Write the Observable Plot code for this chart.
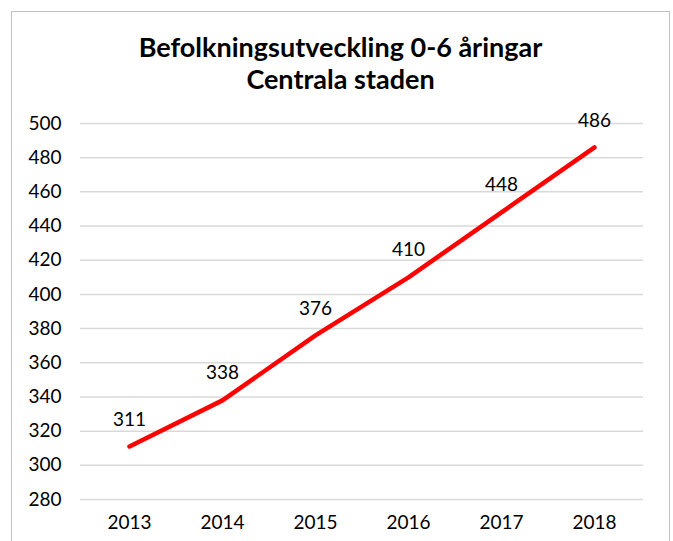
<!DOCTYPE html>
<html><head><meta charset="utf-8">
<script src="https://cdn.jsdelivr.net/npm/d3@7"></script>
<script src="https://cdn.jsdelivr.net/npm/@observablehq/plot@0.6"></script>
<style>
html,body{margin:0;padding:0;background:#fff;}
#wrap{position:relative;width:673px;height:541px;overflow:hidden;font-family:Lato,"Open Sans",sans-serif;}
#box{position:absolute;left:11px;top:11px;width:657px;height:540px;border:1.5px solid #c0c0c0;border-bottom:none;}
#title{position:absolute;left:11px;top:31px;width:659px;text-align:center;font-weight:bold;font-size:27px;line-height:32px;color:#000;}
#chart{position:absolute;left:0;top:100px;}
</style></head>
<body><div id="wrap"><div id="box"></div>
<div id="title">Befolkningsutveckling 0-6 åringar<br>Centrala staden</div>
<div id="chart"></div></div>
<script>
const years = ["2013","2014","2015","2016","2017","2018"];
const values = [311,338,376,410,448,486];
const yTicks = [280,300,320,340,360,380,400,420,440,460,480,500];
const data = years.map((y,i)=>({year:y, value:values[i]}));
const chart = Plot.plot({
  width:673, height:441,
  marginLeft:80, marginRight:30, marginTop:23, marginBottom:42,
  style:{fontFamily:"Lato, 'Open Sans', sans-serif", fontSize:"19px", color:"#000", background:"transparent"},
  x:{type:"point", domain:years, padding:0.5, label:null},
  y:{domain:[280,500], ticks:yTicks, label:null},
  marks:[
    Plot.ruleY(yTicks,{stroke:"#d9d9d9", strokeWidth:1.5}),
    Plot.axisX({tickSize:0, tickPadding:16, fontSize:19, label:null}),
    Plot.axisY({ticks:yTicks, tickSize:0, tickPadding:19, fontSize:19, label:null}),
    Plot.line(data,{x:"year", y:"value", stroke:"#ff0000", strokeWidth:4.5, strokeLinecap:"round"}),
    Plot.text(data,{x:"year", y:"value", text:d=>String(d.value), dy:-27, fontSize:19, fill:"#000"})
  ]
});
document.getElementById("chart").appendChild(chart);
</script></body></html>
